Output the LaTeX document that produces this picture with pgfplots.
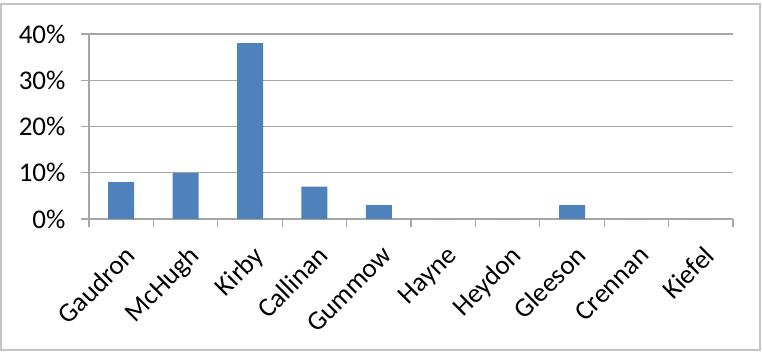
\documentclass[border=0pt]{standalone}
\usepackage{pgfplots}
\pgfplotsset{compat=1.18}
\usepackage{fontspec}
\setmainfont{Carlito}
\definecolor{barblue}{HTML}{4F81BD}
\definecolor{gridgray}{HTML}{A6A6A6}
\definecolor{framegray}{HTML}{C4C4C4}

\begin{document}
\begin{tikzpicture}[x=1bp,y=1bp]
\useasboundingbox (0,0) rectangle (762,351);
% chart frame
\draw[framegray, line width=1.2bp] (1,1) rectangle (760,347);
\begin{axis}[
  at={(89bp,132bp)}, anchor=south west,
  scale only axis, width=644bp, height=185bp,
  xmin=-0.5, xmax=9.5, ymin=0, ymax=40,
  axis x line*=bottom, axis y line*=left,
  axis line style={draw=gridgray, line width=1.3bp},
  ymajorgrids, grid style={draw=gridgray, line width=1.3bp},
  tick align=outside, major tick length=8bp,
  tick style={draw=gridgray, line width=1.3bp},
  ytick={0,10,20,30,40},
  yticklabels={0\%,10\%,20\%,30\%,40\%},
  yticklabel style={xshift=-12bp},
  xtick={-0.5,0.5,1.5,2.5,3.5,4.5,5.5,6.5,7.5,8.5,9.5},
  xticklabels={},
  extra x ticks={0,1,2,3,4,5,6,7,8,9},
  extra x tick labels={Gaudron,McHugh,Kirby,Callinan,Gummow,Hayne,Heydon,Gleeson,Crennan,Kiefel},
  extra x tick style={major tick length=0pt,
    tick label style={rotate=45, anchor=north east, xshift=-13bp, yshift=-16bp}},
  tick label style={font=\fontsize{27bp}{32bp}\selectfont, text=black},
  ybar, bar width=26bp,
]
\addplot[fill=barblue, draw=none] coordinates {
  (0,8) (1,10) (2,38) (3,7) (4,3) (5,0) (6,0) (7,3) (8,0) (9,0)
};
\end{axis}
\end{tikzpicture}
\end{document}
